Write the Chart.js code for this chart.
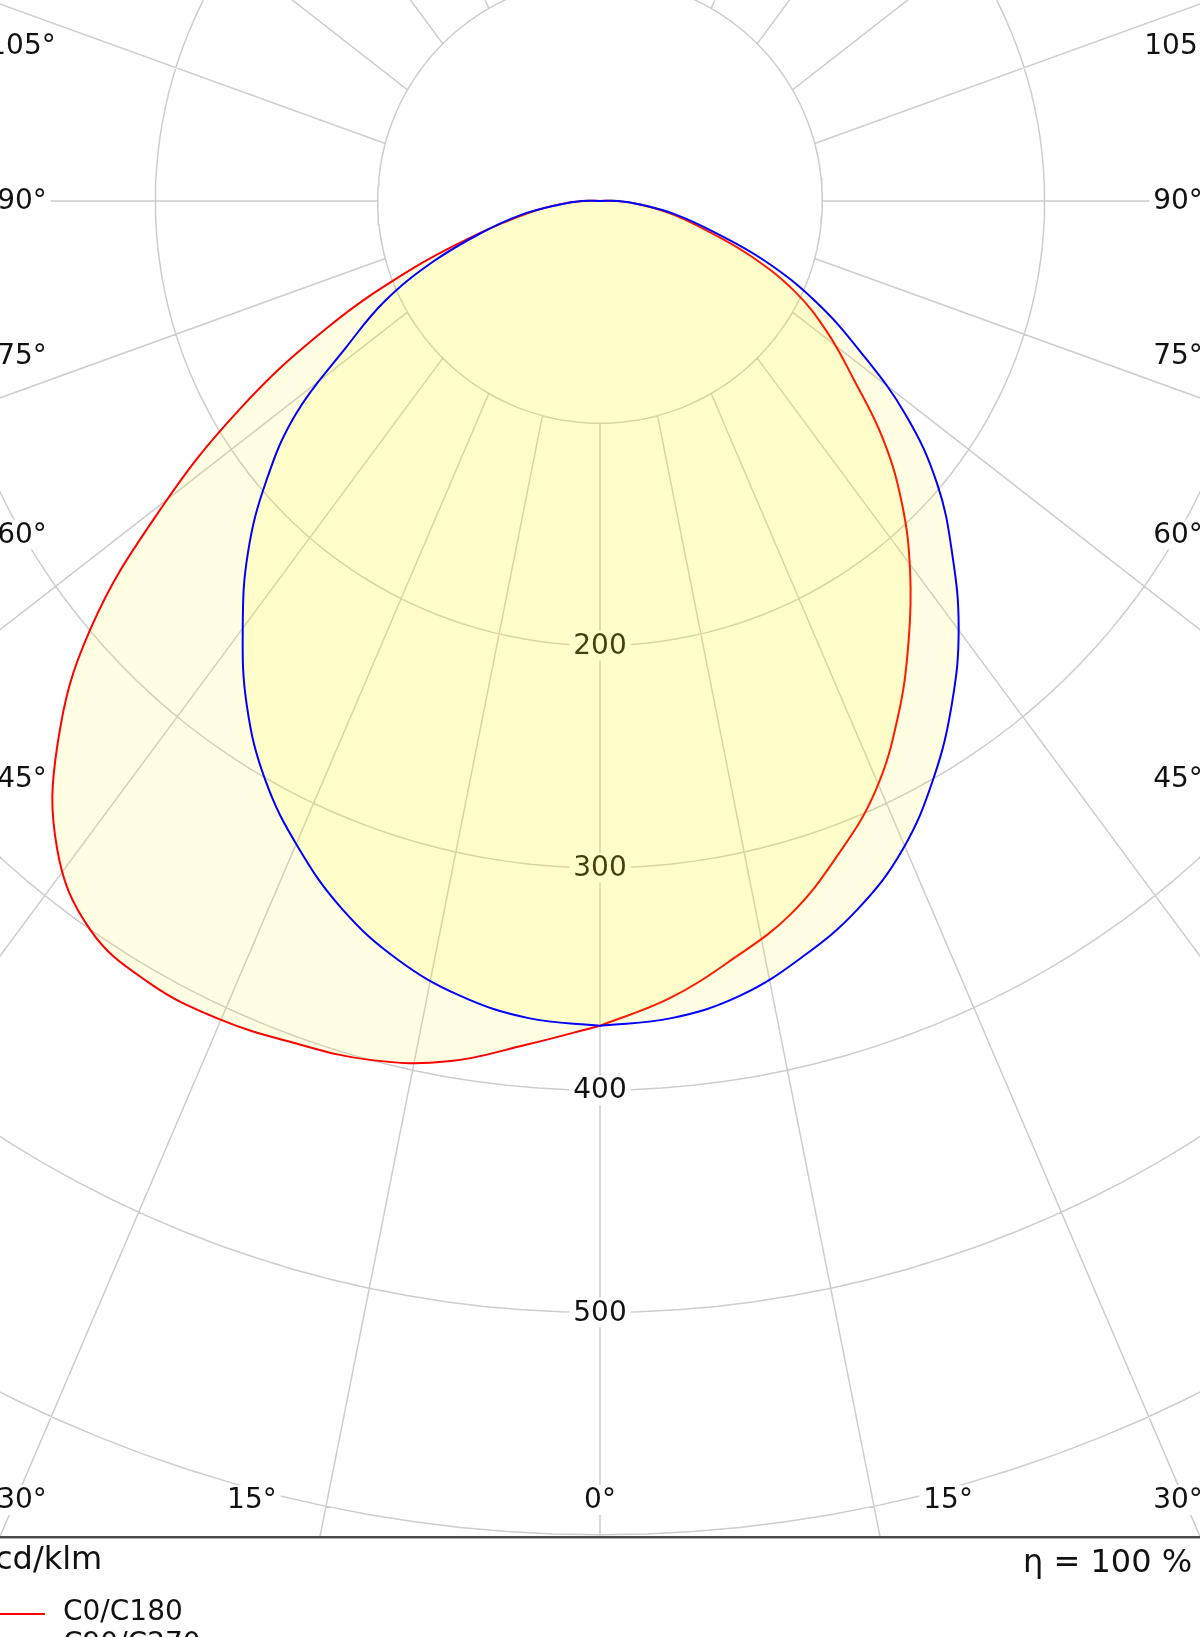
<!DOCTYPE html>
<html><head><meta charset="utf-8">
<script src="https://cdn.jsdelivr.net/npm/chart.js@4/dist/chart.umd.min.js"></script>
<style>html,body{margin:0;padding:0;background:#fff;overflow:hidden}canvas{display:block}</style>
</head><body>
<canvas id="c" width="1200" height="1637"></canvas>
<script>
// gamma angles (degrees from nadir)
const gammaDeg = [0,5,10,15,20,25,30,35,40,45,50,55,60,65,70,75,80,85,90,95,100,105,110,115,120,125,130,135,140,145,150,155,160,165,170,175,180];
// intensities in cd/klm
const c0   = [371,360,346,332,313,293,268,242,217,192,166,139,118,97,72,48,32,18,8,0,0,0,0,0,0,0,0,0,0,0,0,0,0,0,0,0,0];
const c180 = [371,381,393,400,403,406,406,400,380,345,299,241,187,136,91,56,34,19,8,0,0,0,0,0,0,0,0,0,0,0,0,0,0,0,0,0,0];
const c90  = [371,369,363,352,339,322,300,276,251,224,198,168,135,107,79,52,34,18,8,0,0,0,0,0,0,0,0,0,0,0,0,0,0,0,0,0,0];
const c270 = [371,369,363,353,339,321,301,277,250,224,196,167,132,107,80,55,36,18,8,0,0,0,0,0,0,0,0,0,0,0,0,0,0,0,0,0,0];
// grid / tick definitions
const ringTicks = [100,200,300,400,500,600];
const ringLabels = [200,300,400,500];
const spokeAngles = [0,15,30,45,60,75,90,105,120,135,150,165,180];
const angleLabels = [0,15,30,45,60,75,90,105];
const seriesNames = ['C0/C180','C90/C270'];
const unitText = 'cd/klm';
const etaText = 'η = 100 %';

const RAD = Math.PI/180;
const SPOKE_STRETCH = 1.35;
function polar(side, g, I){ return {x: side*I*Math.sin(g*RAD), y: -I*Math.cos(g*RAD)}; }
function curve(right, left){
  const pts = [];
  for (let i=0;i<gammaDeg.length;i++) pts.push(polar(1, gammaDeg[i], right[i]));
  for (let i=gammaDeg.length-1;i>=0;i--) pts.push(polar(-1, gammaDeg[i], left[i]));
  return pts;
}
function gridPoints(){
  const pts = [];
  for (const r of ringTicks){
    for (let a=0;a<=360;a+=2) pts.push({x: r*Math.sin(a*RAD), y: r*Math.cos(a*RAD)});
    pts.push({x:null,y:null});
  }
  const r0 = ringTicks[0];
  for (const g of spokeAngles){
    for (const side of [-1,1]){
      const s = polar(side, g, r0);
      const L = 2000;
      pts.push(s);
      pts.push({x: s.x + L*side*Math.sin(g*RAD), y: s.y - L*SPOKE_STRETCH*Math.cos(g*RAD)});
      pts.push({x:null,y:null});
    }
  }
  return pts;
}

const FONT = '"DejaVu Sans", Verdana, sans-serif';
function boxedText(ctx, txt, x, y){
  ctx.font = '28px ' + FONT;
  const w = ctx.measureText(txt).width;
  ctx.fillStyle = '#ffffff';
  ctx.fillRect(x - w/2 - 4, y - 15, w + 8, 30);
  ctx.fillStyle = '#111111';
  ctx.textAlign = 'center';
  ctx.textBaseline = 'middle';
  ctx.fillText(txt, x, y + 1);
}

const labelPlugin = {
  id: 'ldcLabels',
  afterDatasetDraw(chart, args){
    if (args.index !== 2) return;
    const ctx = chart.ctx, a = chart.chartArea;
    const xs = chart.scales.x, ys = chart.scales.y;
    const cx = xs.getPixelForValue(0), cy = ys.getPixelForValue(0);
    ctx.save();
    for (const v of ringLabels) boxedText(ctx, String(v), cx, ys.getPixelForValue(-v));
    const inset = 22, rowY = a.bottom - 37;
    for (const g of angleLabels){
      for (const side of (g === 0 ? [1] : [-1,1])){
        let px, py;
        if (g >= 45){
          px = side < 0 ? a.left + inset : a.right - inset;
          py = cy + Math.abs(px - cx) * Math.cos(g*RAD)/Math.sin(g*RAD);
        } else {
          py = rowY;
          px = cx + side*(rowY - cy)*Math.tan(g*RAD);
          px = Math.max(a.left + inset, Math.min(a.right - inset, px));
        }
        boxedText(ctx, g + '°', px, py);
      }
    }
    ctx.restore();
  },
  afterDraw(chart){
    const ctx = chart.ctx, a = chart.chartArea;
    ctx.save();
    ctx.fillStyle = '#4a4a4a';
    ctx.fillRect(0, a.bottom - 1, chart.width, 2);
    ctx.fillStyle = '#b0b0b0';
    ctx.fillRect(0, a.bottom + 1, chart.width, 1);
    ctx.fillStyle = '#111111';
    ctx.font = '32px ' + FONT;
    ctx.textBaseline = 'alphabetic';
    ctx.textAlign = 'left';
    ctx.fillText(unitText, -5, a.bottom + 32);
    ctx.fillText(etaText, 1023, a.bottom + 35);
    const colors = ['#ff0000', '#0000ff'];
    ctx.font = '28px ' + FONT;
    ctx.textBaseline = 'middle';
    for (let i=0;i<seriesNames.length;i++){
      const y = a.bottom + 77 + i*32;
      ctx.strokeStyle = colors[i];
      ctx.lineWidth = 2;
      ctx.beginPath(); ctx.moveTo(0, y); ctx.lineTo(45, y); ctx.stroke();
      ctx.fillStyle = '#111111';
      ctx.fillText(seriesNames[i], 63, y - 1);
    }
    ctx.restore();
  }
};

new Chart(document.getElementById('c'), {
  type: 'line',
  data: {
    datasets: [
      {label: seriesNames[1], data: curve(c90, c270), borderColor: '#0000ff', borderWidth: 2,
       backgroundColor: 'rgba(255,248,0,0.11)', fill: 'shape', pointRadius: 0, tension: 0.4, order: 0},
      {label: seriesNames[0], data: curve(c0, c180), borderColor: '#ff0000', borderWidth: 2,
       backgroundColor: 'rgba(255,248,0,0.11)', fill: 'shape', pointRadius: 0, tension: 0.4, order: 1},
      {label: 'grid', data: gridPoints(), borderColor: '#cdcdcd', borderWidth: 1.5,
       pointRadius: 0, fill: false, tension: 0, spanGaps: false, order: 2}
    ]
  },
  options: {
    responsive: false,
    animation: false,
    events: [],
    layout: {padding: {left: 0, right: 0, top: 0, bottom: 100}},
    scales: {
      x: {type: 'linear', display: false, min: -269.9, max: 269.9},
      y: {type: 'linear', display: false, min: -601, max: 90.4}
    },
    plugins: {legend: {display: false}, tooltip: {enabled: false}}
  },
  plugins: [labelPlugin]
});
</script>
</body></html>
